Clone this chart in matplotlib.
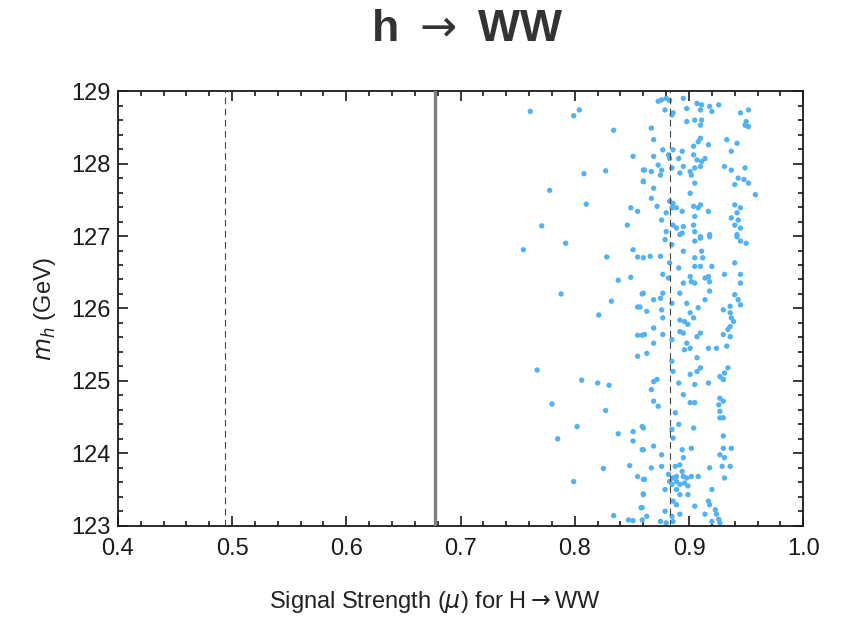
import numpy as np
import matplotlib
matplotlib.use('Agg')
import matplotlib.pyplot as plt
from matplotlib.ticker import MultipleLocator, FormatStrFormatter

plt.rcParams['font.family'] = ['Liberation Sans', 'DejaVu Sans']
plt.rcParams['mathtext.fontset'] = 'dejavusans'

# scan points: signal strength mu vs m_h (GeV)
mu_sparse = [0.761, 0.804, 0.799, 0.834, 0.851, 0.808, 0.827, 0.778, 0.810, 0.849,
             0.855, 0.771, 0.846, 0.860, 0.860, 0.755, 0.792, 0.851, 0.855, 0.828,
             0.838, 0.849, 0.788, 0.832, 0.821, 0.859, 0.855, 0.857, 0.855, 0.859,
             0.855, 0.767, 0.806, 0.820, 0.830, 0.780, 0.827, 0.802, 0.785, 0.838,
             0.851, 0.851, 0.859, 0.859, 0.825, 0.848, 0.799, 0.855, 0.860, 0.860,
             0.859, 0.834, 0.847, 0.851, 0.859]
mh_sparse = [128.72, 128.74, 128.66, 128.46, 128.10, 127.86, 127.90, 127.63, 127.44, 127.39,
             127.34, 127.14, 127.15, 127.91, 127.76, 126.81, 126.90, 126.81, 126.71, 126.71,
             126.39, 126.43, 126.20, 126.10, 125.91, 126.20, 126.02, 126.02, 125.63, 125.63,
             125.34, 125.15, 125.01, 124.97, 124.94, 124.68, 124.59, 124.37, 124.20, 124.27,
             124.30, 124.17, 124.37, 124.05, 123.79, 123.83, 123.61, 123.68, 123.64, 123.44,
             123.25, 123.14, 123.08, 123.07, 123.08]

mu_upper = [0.873, 0.876, 0.880, 0.883, 0.879, 0.886, 0.885, 0.895, 0.898, 0.907,
            0.911, 0.910, 0.918, 0.920, 0.926, 0.905, 0.911, 0.910, 0.898, 0.867,
            0.869, 0.877, 0.882, 0.883, 0.886, 0.894, 0.891, 0.904, 0.908, 0.910,
            0.917, 0.904, 0.907, 0.911, 0.914, 0.910, 0.905, 0.901, 0.933, 0.942,
            0.937, 0.945, 0.952, 0.950, 0.952, 0.949, 0.869, 0.861, 0.867, 0.873,
            0.876, 0.875, 0.885, 0.892, 0.895, 0.902, 0.905, 0.901, 0.931, 0.937,
            0.949, 0.943, 0.948, 0.940, 0.952, 0.958, 0.860, 0.869, 0.867, 0.872,
            0.883, 0.886, 0.885, 0.889, 0.880, 0.894, 0.904, 0.908, 0.910, 0.917,
            0.905, 0.876, 0.886, 0.889, 0.895, 0.894, 0.880, 0.904, 0.905, 0.918,
            0.910, 0.940, 0.945, 0.942, 0.937, 0.943, 0.940, 0.945, 0.942]
mh_upper = [128.86, 128.88, 128.90, 128.87, 128.74, 128.70, 128.67, 128.90, 128.76, 128.83,
            128.81, 128.74, 128.79, 128.72, 128.81, 128.60, 128.60, 128.53, 128.58, 128.49,
            128.33, 128.19, 128.12, 128.07, 128.19, 128.17, 128.07, 128.24, 128.30, 128.35,
            128.26, 128.12, 128.05, 128.03, 128.07, 127.96, 127.94, 127.89, 128.33, 128.28,
            128.17, 128.70, 128.74, 128.58, 128.51, 128.53, 128.10, 127.91, 127.89, 127.98,
            127.91, 127.84, 127.94, 127.87, 127.96, 127.84, 127.73, 127.59, 127.96, 127.91,
            127.94, 127.80, 127.78, 127.71, 127.73, 127.57, 127.75, 127.66, 127.52, 127.41,
            127.48, 127.45, 127.39, 127.39, 127.32, 127.34, 127.41, 127.39, 127.43, 127.34,
            127.27, 127.22, 127.15, 127.11, 127.13, 127.04, 127.06, 127.15, 127.06, 127.02,
            126.99, 127.43, 127.39, 127.32, 127.25, 127.22, 127.15, 127.11, 127.02]

mu_middle = [0.879, 0.885, 0.892, 0.905, 0.910, 0.918, 0.942, 0.945, 0.950, 0.860,
             0.866, 0.875, 0.883, 0.895, 0.905, 0.911, 0.912, 0.891, 0.905, 0.910,
             0.920, 0.940, 0.877, 0.882, 0.895, 0.901, 0.902, 0.905, 0.914, 0.918,
             0.917, 0.931, 0.945, 0.945, 0.860, 0.869, 0.875, 0.877, 0.885, 0.892,
             0.898, 0.908, 0.914, 0.918, 0.940, 0.943, 0.945, 0.863, 0.876, 0.877,
             0.892, 0.896, 0.901, 0.899, 0.904, 0.930, 0.936, 0.937, 0.939, 0.936,
             0.936, 0.934, 0.869, 0.861, 0.877, 0.885, 0.892, 0.895, 0.898, 0.901,
             0.896, 0.910, 0.907, 0.917, 0.924, 0.933, 0.930, 0.936, 0.869, 0.863,
             0.907, 0.885, 0.872, 0.886, 0.901, 0.907, 0.910, 0.927, 0.931, 0.934,
             0.930]
mh_middle = [126.95, 126.88, 127.02, 126.93, 126.97, 126.99, 126.99, 126.93, 126.90, 126.70,
             126.72, 126.72, 126.63, 126.79, 126.70, 126.79, 126.70, 126.56, 126.58, 126.58,
             126.58, 126.63, 126.47, 126.42, 126.35, 126.44, 126.37, 126.35, 126.42, 126.37,
             126.44, 126.47, 126.47, 126.35, 126.21, 126.12, 126.14, 126.21, 126.07, 126.21,
             126.07, 126.01, 126.12, 126.24, 126.19, 126.12, 126.05, 125.96, 125.98, 125.87,
             125.84, 125.82, 125.94, 125.78, 125.87, 125.98, 125.94, 125.87, 125.82, 125.75,
             126.03, 125.71, 125.73, 125.64, 125.64, 125.57, 125.68, 125.66, 125.52, 125.45,
             125.43, 125.66, 125.61, 125.45, 125.45, 125.48, 125.64, 125.61, 125.52, 125.38,
             125.32, 125.27, 125.02, 125.13, 125.09, 125.13, 125.18, 125.06, 125.11, 125.18,
             125.02]

mu_lower = [0.869, 0.867, 0.869, 0.873, 0.891, 0.905, 0.917, 0.930, 0.895, 0.901,
            0.905, 0.927, 0.930, 0.926, 0.927, 0.927, 0.930, 0.888, 0.891, 0.904,
            0.885, 0.886, 0.860, 0.860, 0.869, 0.876, 0.902, 0.894, 0.895, 0.892,
            0.888, 0.882, 0.886, 0.889, 0.894, 0.895, 0.898, 0.902, 0.908, 0.867,
            0.876, 0.918, 0.930, 0.930, 0.927, 0.931, 0.937, 0.936, 0.929, 0.931,
            0.861, 0.860, 0.879, 0.885, 0.889, 0.892, 0.886, 0.889, 0.899, 0.905,
            0.920, 0.917, 0.918, 0.923, 0.924, 0.926, 0.858, 0.863, 0.879, 0.885,
            0.892, 0.886, 0.875, 0.880, 0.914, 0.920, 0.927, 0.896, 0.899, 0.892,
            0.889, 0.883]
mh_lower = [124.99, 124.88, 124.72, 124.65, 124.97, 124.95, 124.97, 125.02, 124.81, 124.70,
            124.70, 124.76, 124.72, 124.67, 124.58, 124.49, 124.49, 124.56, 124.40, 124.35,
            124.33, 124.21, 124.35, 124.05, 124.10, 123.98, 124.07, 124.05, 123.94, 123.84,
            123.82, 123.71, 123.66, 123.68, 123.75, 123.68, 123.66, 123.68, 123.68, 123.80,
            123.82, 123.80, 124.24, 124.07, 123.98, 123.94, 124.07, 123.82, 123.82, 123.66,
            123.64, 123.43, 123.50, 123.57, 123.50, 123.43, 123.34, 123.29, 123.43, 123.27,
            123.50, 123.34, 123.29, 123.22, 123.16, 123.09, 123.25, 123.13, 123.20, 123.13,
            123.16, 123.06, 123.06, 123.04, 123.16, 123.06, 123.04, 123.59, 123.55, 123.57,
            123.61, 123.61]

mu_all = mu_sparse + mu_upper + mu_middle + mu_lower
mh_all = mh_sparse + mh_upper + mh_middle + mh_lower

mu_dashed = [0.494, 0.883]
mu_solid = 0.678

fig = plt.figure(figsize=(8.42, 6.2), dpi=100)
ax = fig.add_axes([0.140, 0.152, 0.814, 0.701])

ax.scatter(mu_all, mh_all, s=15, color='#52b2f2', edgecolors='none', zorder=2)
for m in mu_dashed:
    ax.axvline(m, color='#444444', linestyle=(0, (6, 4)), linewidth=0.8, zorder=3)
ax.axvline(mu_solid, color='#808080', linewidth=2.4, zorder=3)

ax.set_xlim(0.4, 1.0)
ax.set_ylim(123, 129)
ax.xaxis.set_major_locator(MultipleLocator(0.1))
ax.xaxis.set_minor_locator(MultipleLocator(0.02))
ax.yaxis.set_major_locator(MultipleLocator(1))
ax.yaxis.set_minor_locator(MultipleLocator(0.2))
ax.xaxis.set_major_formatter(FormatStrFormatter('%.1f'))
ax.tick_params(which='both', direction='in', top=True, right=True, width=1.2, colors='#1a1a1a')
ax.tick_params(which='major', length=7, labelsize=17)
ax.tick_params(axis='x', which='major', pad=9)
ax.tick_params(axis='y', which='major', pad=5)
ax.tick_params(which='minor', length=3.5)
for s in ax.spines.values():
    s.set_linewidth(1.3)
    s.set_color('#1a1a1a')

ax.set_xlabel(r'Signal Strength ($\mu$) for H$\rightarrow$WW', fontsize=17, color='#222222')
ax.xaxis.set_label_coords(0.463, -0.145)
ax.set_ylabel(r'$m_h$ (GeV)', fontsize=17, color='#222222', labelpad=10)

fig.text(0.555, 0.952, r'h $\rightarrow$ WW', fontsize=32, fontweight='bold',
         color='#333333', ha='center', va='center')

fig.savefig('out.png', dpi=100)
